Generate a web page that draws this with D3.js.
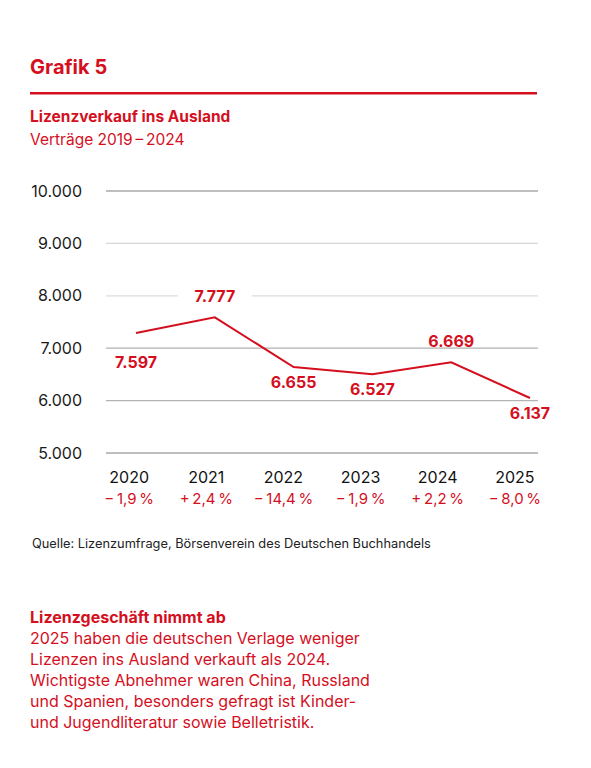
<!DOCTYPE html>
<html>
<head>
<meta charset="utf-8">
<script src="https://cdn.jsdelivr.net/npm/d3@7"></script>
<style>
  body { margin: 0; background: #fff; }
  svg text { font-family: Inter, "Noto Sans", sans-serif; }
</style>
</head>
<body>
<script>
(function grafik() {
  // values as plotted by the line, and the printed labels
  var years = ["2020", "2021", "2022", "2023", "2024", "2025"];
  var plotted = [7290, 7590, 6640, 6505, 6730, 6050];
  var valueLabels = ["7.597", "7.777", "6.655", "6.527", "6.669", "6.137"];
  var changeLabels = ["\u2212\u20091,9\u2009%", "+\u20092,4\u2009%", "\u2212\u200914,4\u2009%",
                      "\u2212\u20091,9\u2009%", "+\u20092,2\u2009%", "\u2212\u20098,0\u2009%"];
  var yTicks = [5000, 6000, 7000, 8000, 9000, 10000];
  var gridColors = ["#a9a9a9", "#b3b3b3", "#b0b0b0", "#dcdcdc", "#d6d6d6", "#a9a9a9"];
  var note = [
    "2025 haben die deutschen Verlage weniger",
    "Lizenzen ins Ausland verkauft als 2024.",
    "Wichtigste Abnehmer waren China, Russland",
    "und Spanien, besonders gefragt ist Kinder-",
    "und Jugendliteratur sowie Belletristik."
  ];

  var red = "#d40f1e";
  var width = 591, height = 768;

  var de = d3.formatLocale({ decimal: ",", thousands: ".", grouping: [3], currency: ["", " €"] });
  var fmt = de.format(",");

  var svg = d3.select("body").append("svg")
      .attr("width", width)
      .attr("height", height);

  // header
  svg.append("text")
      .attr("x", 30).attr("y", 74)
      .style("font-size", "20px").style("font-weight", 700)
      .style("fill", red)
      .text("Grafik 5");

  svg.append("rect")
      .attr("x", 30).attr("y", 92)
      .attr("width", 507).attr("height", 2.5)
      .style("fill", red);

  svg.append("text")
      .attr("x", 30).attr("y", 122)
      .style("font-size", "15.5px").style("font-weight", 700)
      .style("fill", red)
      .text("Lizenzverkauf ins Ausland");

  svg.append("text")
      .attr("x", 30).attr("y", 145)
      .style("font-size", "15.5px")
      .style("fill", red)
      .text("Verträge 2019\u2009\u2013\u20092024");

  // scales
  var y = d3.scaleLinear().domain([5000, 10000]).range([453, 191]);
  var xAxis = d3.scalePoint().domain(years).range([106, 538]).padding(0.3);
  var xLine = d3.scalePoint().domain(years).range([136, 530]);

  // grid
  var grid = svg.append("g").attr("class", "grid");
  grid.selectAll("line")
      .data(yTicks)
    .enter().append("line")
      .attr("x1", 106).attr("x2", 538)
      .attr("y1", function(d) { return y(d); })
      .attr("y2", function(d) { return y(d); })
      .style("stroke", function(d, i) { return gridColors[i]; })
      .style("stroke-width", 1.3);

  grid.selectAll("text")
      .data(yTicks)
    .enter().append("text")
      .attr("x", 82)
      .attr("y", function(d) { return y(d); })
      .attr("dy", "0.35em")
      .attr("text-anchor", "end")
      .style("font-size", "16px")
      .style("fill", "#1a1a1a")
      .text(function(d) { return fmt(d); });

  // x labels
  var xg = svg.append("g").attr("class", "x");
  xg.selectAll(".yr")
      .data(years)
    .enter().append("text")
      .attr("class", "yr")
      .attr("x", function(d) { return xAxis(d); })
      .attr("y", 483)
      .attr("text-anchor", "middle")
      .style("font-size", "16px")
      .style("fill", "#111")
      .text(function(d) { return d; });

  xg.selectAll(".chg")
      .data(years)
    .enter().append("text")
      .attr("class", "chg")
      .attr("x", function(d) { return xAxis(d); })
      .attr("y", 504)
      .attr("text-anchor", "middle")
      .style("font-size", "15px")
      .style("fill", red)
      .text(function(d, i) { return changeLabels[i]; });

  // line
  var data = years.map(function(yr, i) { return { year: yr, value: plotted[i], label: valueLabels[i] }; });

  var line = d3.line()
      .x(function(d) { return xLine(d.year); })
      .y(function(d) { return y(d.value); });

  function isPeak(i) {
    var prev = i > 0 ? plotted[i - 1] : -Infinity;
    var next = i < plotted.length - 1 ? plotted[i + 1] : -Infinity;
    return plotted[i] > prev && plotted[i] > next;
  }

  var labels = svg.append("g").attr("class", "labels");
  var lab = labels.selectAll("g")
      .data(data)
    .enter().append("g")
      .attr("transform", function(d, i) {
        var dy = isPeak(i) ? -15 : (i === 0 ? 35 : 21);
        return "translate(" + xLine(d.year) + "," + (y(d.value) + dy) + ")";
      });

  // white knock-out behind the labels so grid lines stop short of them
  lab.append("rect")
      .attr("x", -37).attr("y", -13)
      .attr("width", 74).attr("height", 12)
      .style("fill", "#fff");

  svg.append("path")
      .datum(data)
      .attr("d", line)
      .style("fill", "none")
      .style("stroke", red)
      .style("stroke-width", 2)
      .style("stroke-linejoin", "miter");

  lab.append("text")
      .attr("text-anchor", "middle")
      .style("font-size", "16px").style("font-weight", 700)
      .style("fill", red)
      .text(function(d) { return d.label; });

  // source
  svg.append("text")
      .attr("x", 32).attr("y", 548)
      .style("font-size", "12.8px")
      .style("fill", "#222")
      .text("Quelle: Lizenzumfrage, Börsenverein des Deutschen Buchhandels");

  // note
  svg.append("text")
      .attr("x", 30).attr("y", 623)
      .style("font-size", "16px").style("font-weight", 700)
      .style("fill", red)
      .text("Lizenzgeschäft nimmt ab");

  svg.append("g").selectAll("text")
      .data(note)
    .enter().append("text")
      .attr("x", 30)
      .attr("y", function(d, i) { return 644 + i * 21; })
      .style("font-size", "16px")
      .style("fill", red)
      .text(function(d) { return d; });
})();
</script>
</body>
</html>
